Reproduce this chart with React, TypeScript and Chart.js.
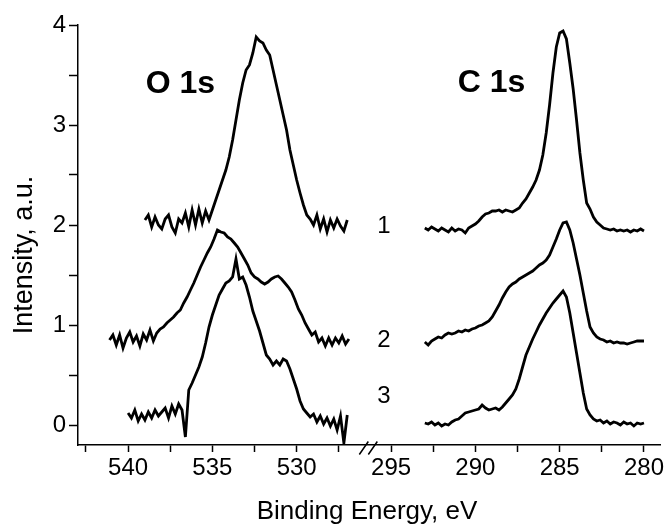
import React, { useEffect, useRef } from 'react';
import { Chart, registerables } from 'chart.js';

Chart.register(...registerables);

// Broken binding-energy axis: O 1s window is shifted by BREAK_SHIFT eV so it sits next to the C 1s window
const BREAK_SHIFT = 229.4;
const BREAK_AT = 296.35;
const X_MIN = 279.05;
const X_MAX = 313.57;

const X_TICKS_LEFT_MAJOR = [540, 535, 530];
const X_TICKS_LEFT_MINOR = [542.5, 537.5, 532.5, 527.5];
const X_TICKS_RIGHT_MAJOR = [295, 290, 285, 280];
const X_TICKS_RIGHT_MINOR = [292.5, 287.5, 282.5];
const Y_TICKS = [0, 0.5, 1, 1.5, 2, 2.5, 3, 3.5, 4];

const STEP = 0.2;
const O1S_START = [539.0, 541.1, 540.0];
const C1S_START = [293.0, 293.0, 293.0];

const O1S_1 = [
  2.05, 2.1, 1.98, 2.08, 2.0, 1.96, 2.06, 2.1, 1.98, 1.92,
  2.06, 2.02, 2.12, 1.98, 2.15, 2.0, 2.16, 2.02, 2.14, 2.05,
  2.15, 2.25, 2.35, 2.45, 2.55, 2.68, 2.85, 3.05, 3.25, 3.42,
  3.55, 3.6, 3.72, 3.88, 3.84, 3.82, 3.75, 3.7, 3.55, 3.4,
  3.25, 3.1, 2.95, 2.75, 2.6, 2.45, 2.32, 2.2, 2.1, 2.06,
  2.0, 2.1, 1.96, 2.06, 1.93, 2.05, 1.97, 2.06, 1.99, 1.94, 2.05,
];
const O1S_2 = [
  0.85, 0.9, 0.8, 0.9, 0.77, 0.87, 0.93, 0.83, 0.89, 0.79,
  0.91, 0.85, 0.95, 0.84, 0.92, 0.96, 0.98, 1.02, 1.05, 1.08,
  1.12, 1.15, 1.22, 1.28, 1.35, 1.42, 1.5, 1.58, 1.65, 1.72,
  1.78, 1.86, 1.95, 1.93, 1.92, 1.88, 1.86, 1.82, 1.78, 1.72,
  1.66, 1.6, 1.52, 1.48, 1.46, 1.43, 1.41, 1.43, 1.46, 1.48,
  1.49, 1.46, 1.42, 1.38, 1.33, 1.25, 1.16, 1.1, 1.02, 0.96,
  0.9, 0.93, 0.83, 0.87, 0.79, 0.87, 0.8, 0.87, 0.82, 0.89, 0.81, 0.86,
];
const O1S_3 = [
  0.12, 0.07, 0.15, 0.04, 0.11, 0.05, 0.13, 0.07, 0.15, 0.09,
  0.13, 0.17, 0.07, 0.19, 0.11, 0.21, 0.15, -0.12, 0.35, 0.42,
  0.5, 0.58, 0.68, 0.82, 0.98, 1.1, 1.2, 1.3, 1.36, 1.42,
  1.44, 1.48, 1.66, 1.46, 1.48, 1.4, 1.28, 1.14, 1.04, 0.94,
  0.82, 0.7, 0.66, 0.6, 0.64, 0.6, 0.66, 0.64, 0.56, 0.46,
  0.36, 0.24, 0.16, 0.12, 0.08, 0.11, 0.03, 0.09, 0.01, 0.07,
  -0.01, 0.06, -0.05, 0.09, -0.18, 0.1,
];
const C1S_1 = [
  1.97, 1.95, 1.98, 1.96, 1.94, 1.97, 1.95, 1.93, 1.97, 1.94,
  1.96, 1.95, 1.92, 1.97, 1.99, 2.01, 2.04, 2.08, 2.11, 2.12,
  2.14, 2.14, 2.15, 2.13, 2.15, 2.14, 2.13, 2.15, 2.17, 2.22,
  2.26, 2.32, 2.38, 2.45, 2.55, 2.7, 2.92, 3.2, 3.52, 3.78,
  3.92, 3.94, 3.86, 3.62, 3.36, 3.05, 2.72, 2.45, 2.22, 2.16,
  2.08, 2.03, 2.0, 1.97, 1.96, 1.95, 1.96, 1.94, 1.95, 1.94,
  1.95, 1.93, 1.95, 1.94, 1.96, 1.94,
];
const C1S_2 = [
  0.83, 0.8, 0.84, 0.86, 0.88, 0.87, 0.9, 0.92, 0.91, 0.92,
  0.94, 0.93, 0.95, 0.94, 0.96, 0.97, 0.99, 1.0, 1.02, 1.04,
  1.08, 1.14, 1.2, 1.27, 1.33, 1.38, 1.41, 1.43, 1.46, 1.48,
  1.5, 1.52, 1.54, 1.57, 1.6, 1.62, 1.65, 1.7, 1.78, 1.86,
  1.95, 2.02, 2.03, 1.95, 1.82, 1.66, 1.5, 1.32, 1.14, 0.98,
  0.92, 0.88, 0.86, 0.85, 0.83, 0.84, 0.82, 0.83, 0.82, 0.82,
  0.81, 0.82, 0.83, 0.84, 0.84, 0.84,
];
const C1S_3 = [
  0.02, 0.01, 0.03, 0.0, 0.02, -0.01, 0.01, 0.0, 0.03, 0.05,
  0.06, 0.09, 0.12, 0.13, 0.14, 0.15, 0.16, 0.2, 0.17, 0.15,
  0.16, 0.17, 0.15, 0.18, 0.22, 0.26, 0.3, 0.36, 0.46, 0.58,
  0.7, 0.78, 0.86, 0.93, 1.0, 1.06, 1.12, 1.17, 1.22, 1.26,
  1.3, 1.34, 1.28, 1.12, 0.92, 0.72, 0.52, 0.32, 0.16, 0.1,
  0.06, 0.04, 0.05, 0.02, 0.04, 0.01, 0.03, 0.02, 0.0, 0.03,
  0.01, 0.02, -0.01, 0.02, 0.01, 0.02,
];

const O1S_SERIES = [O1S_1, O1S_2, O1S_3];
const C1S_SERIES = [C1S_1, C1S_2, C1S_3];
const CURVE_LABELS = ['1', '2', '3'];

const FONT = '"Liberation Sans", Arial, Helvetica, sans-serif';

function toPoints(start: number, values: number[], shift: number) {
  return values.map((y, i) => ({ x: start - i * STEP - shift, y }));
}

const X_TICKS = [
  ...X_TICKS_LEFT_MINOR.map((v) => ({ u: v - BREAK_SHIFT, label: '' })),
  ...X_TICKS_LEFT_MAJOR.map((v) => ({ u: v - BREAK_SHIFT, label: String(v) })),
  ...X_TICKS_RIGHT_MINOR.map((v) => ({ u: v, label: '' })),
  ...X_TICKS_RIGHT_MAJOR.map((v) => ({ u: v, label: String(v) })),
].sort((a, b) => a.u - b.u);

const annotations = {
  id: 'annotations',
  afterDraw(chart: any) {
    const { ctx, scales, chartArea } = chart;
    const xs = scales.x;
    const ys = scales.y;
    ctx.save();
    ctx.fillStyle = '#000';
    ctx.strokeStyle = '#000';

    // axis break marks
    const bx = xs.getPixelForValue(BREAK_AT);
    const by = chartArea.bottom;
    ctx.lineWidth = 1.5;
    ctx.beginPath();
    ctx.moveTo(bx - 9, by + 9.5);
    ctx.lineTo(bx, by - 3.5);
    ctx.moveTo(bx, by + 9.5);
    ctx.lineTo(bx + 9, by - 3.5);
    ctx.stroke();

    // region titles
    ctx.font = `bold 32px ${FONT}`;
    ctx.textAlign = 'center';
    ctx.textBaseline = 'alphabetic';
    ctx.fillText('O 1s', xs.getPixelForValue(536.9 - BREAK_SHIFT), ys.getPixelForValue(3.32));
    ctx.fillText('C 1s', xs.getPixelForValue(289.04), ys.getPixelForValue(3.33));

    // curve numbers
    ctx.font = `24px ${FONT}`;
    const labelY = [1.92, 0.78, 0.22];
    CURVE_LABELS.forEach((t, i) => {
      ctx.fillText(t, xs.getPixelForValue(295.42), ys.getPixelForValue(labelY[i]));
    });

    // axis titles
    ctx.font = `26px ${FONT}`;
    ctx.fillText('Binding Energy, eV', (chartArea.left + chartArea.right) / 2 - 2, 519);
    ctx.save();
    ctx.translate(32, 255);
    ctx.rotate(-Math.PI / 2);
    ctx.font = `27px ${FONT}`;
    ctx.fillText('Intensity, a.u.', 0, 0);
    ctx.restore();

    ctx.restore();
  },
};

export default function App() {
  const ref = useRef<HTMLCanvasElement>(null);

  useEffect(() => {
    if (!ref.current) return;
    const datasets: any[] = [];
    O1S_SERIES.forEach((vals, i) => {
      datasets.push({
        label: `O 1s ${CURVE_LABELS[i]}`,
        data: toPoints(O1S_START[i], vals, BREAK_SHIFT),
      });
    });
    C1S_SERIES.forEach((vals, i) => {
      datasets.push({
        label: `C 1s ${CURVE_LABELS[i]}`,
        data: toPoints(C1S_START[i], vals, 0),
      });
    });
    datasets.forEach((d) => {
      d.borderColor = '#000';
      d.backgroundColor = '#000';
      d.borderWidth = 2.8;
      d.borderJoinStyle = 'miter';
      d.pointRadius = 0;
      d.tension = 0;
      d.fill = false;
    });

    const chart = new Chart(ref.current, {
      type: 'line',
      data: { datasets },
      plugins: [annotations],
      options: {
        animation: false,
        responsive: false,
        devicePixelRatio: 1,
        layout: { padding: { left: 0, top: 25, right: 7, bottom: 0 } },
        plugins: { legend: { display: false }, tooltip: { enabled: false }, title: { display: false } },
        scales: {
          x: {
            type: 'linear',
            reverse: true,
            min: X_MIN,
            max: X_MAX,
            afterBuildTicks: (scale: any) => {
              scale.ticks = X_TICKS.map((t) => ({ value: t.u }));
            },
            afterFit: (scale: any) => {
              scale.height = 81;
              scale.paddingLeft = 0;
              scale.paddingRight = 0;
            },
            ticks: {
              autoSkip: false,
              maxRotation: 0,
              minRotation: 0,
              padding: 2,
              color: '#000',
              font: { family: FONT, size: 24 },
              callback: (_v: any, i: number) => X_TICKS[i]?.label ?? '',
            },
            grid: {
              drawOnChartArea: false,
              drawTicks: true,
              tickLength: 7,
              tickColor: '#000',
              tickWidth: 1.5,
            },
            border: { display: true, color: '#000', width: 1.5 },
          },
          y: {
            type: 'linear',
            min: -0.2,
            max: 4,
            afterBuildTicks: (scale: any) => {
              scale.ticks = Y_TICKS.map((v) => ({ value: v }));
            },
            afterFit: (scale: any) => {
              scale.width = 78;
              scale.paddingTop = 0;
              scale.paddingBottom = 0;
            },
            ticks: {
              padding: 3,
              color: '#000',
              font: { family: FONT, size: 24 },
              callback: (v: any) => (Number.isInteger(v) ? String(v) : ''),
            },
            grid: {
              drawOnChartArea: false,
              drawTicks: true,
              tickLength: 9,
              tickColor: '#000',
              tickWidth: 1.5,
            },
            border: { display: true, color: '#000', width: 1.5 },
          },
        },
      },
    });
    return () => chart.destroy();
  }, []);

  return (
    <div style={{ position: 'fixed', left: 0, top: 0, width: 667, height: 526, background: '#fff' }}>
      <canvas ref={ref} width={667} height={526} style={{ width: 667, height: 526, display: 'block' }} />
    </div>
  );
}
